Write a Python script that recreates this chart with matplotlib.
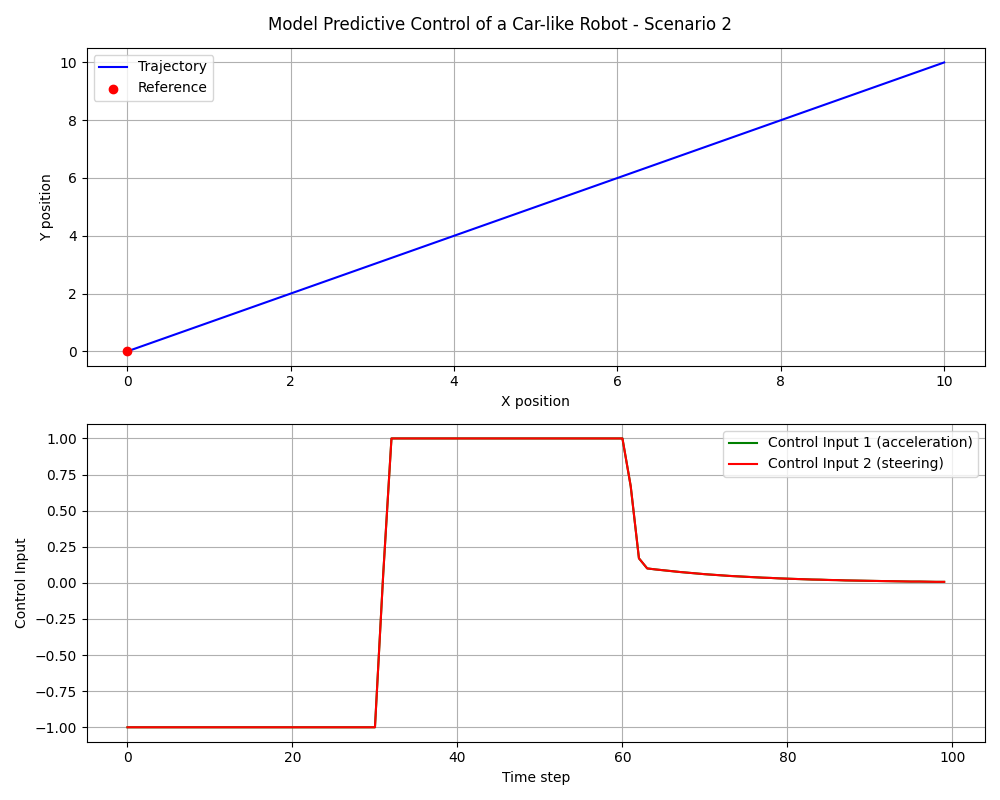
import numpy as np
import matplotlib.pyplot as plt

# Trajectory (x, y) and reference point
traj_x = [0, 2, 4, 6, 8, 10]
traj_y = [0, 2, 4, 6, 8, 10]
ref_x = [0]
ref_y = [0]

# Control inputs, steps 0..99 (both inputs coincide)
control = (
    [-1.0] * 31
    + [0.06]
    + [1.0] * 29
    + [0.67, 0.17]
    + [0.100, 0.093, 0.087, 0.081, 0.075, 0.070, 0.065, 0.060, 0.056, 0.052]
    + [0.048, 0.045, 0.042, 0.039, 0.036, 0.034, 0.031, 0.029, 0.027, 0.025]
    + [0.023, 0.022, 0.020, 0.019, 0.017, 0.016, 0.015, 0.014, 0.013, 0.012]
    + [0.011, 0.010, 0.009, 0.009, 0.008, 0.007, 0.007]
)
accel = control
steer = control
steps = np.arange(len(control))

fig, (ax1, ax2) = plt.subplots(2, 1, figsize=(10, 8), dpi=100)
fig.suptitle("Model Predictive Control of a Car-like Robot - Scenario 2")

ax1.plot(traj_x, traj_y, color="blue", label="Trajectory")
ax1.scatter(ref_x, ref_y, color="red", label="Reference", zorder=3)
ax1.set_xlabel("X position")
ax1.set_ylabel("Y position")
ax1.legend(loc="upper left")
ax1.grid(True)

ax2.plot(steps, accel, color="green", label="Control Input 1 (acceleration)")
ax2.plot(steps, steer, color="red", label="Control Input 2 (steering)")
ax2.set_xlabel("Time step")
ax2.set_ylabel("Control Input")
ax2.legend(loc="upper right")
ax2.grid(True)

fig.tight_layout()
fig.savefig("out.png")
